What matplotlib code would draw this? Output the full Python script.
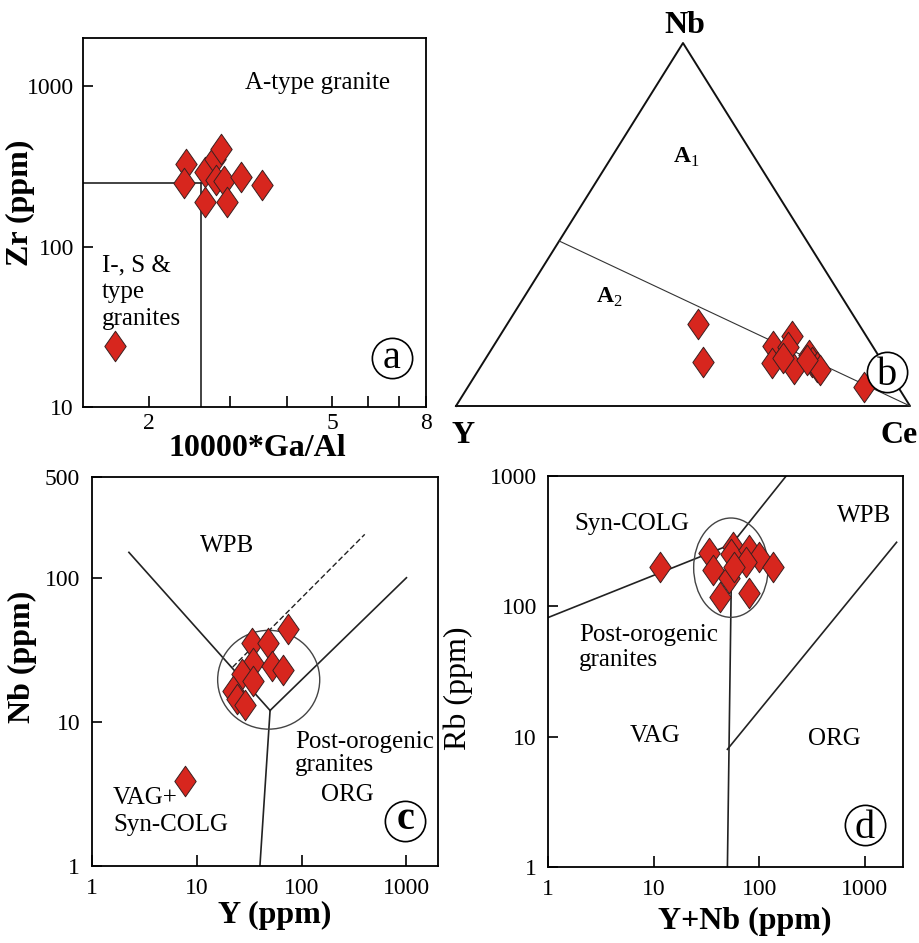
import matplotlib
matplotlib.use("Agg")
import matplotlib.pyplot as plt
import numpy as np
from matplotlib.path import Path
from matplotlib.patches import Ellipse
from matplotlib.ticker import NullLocator
from matplotlib.transforms import offset_copy

plt.rcParams['font.family'] = ['Liberation Serif', 'DejaVu Serif']
plt.rcParams['mathtext.fontset'] = 'custom'
plt.rcParams['mathtext.rm'] = 'Liberation Serif'
plt.rcParams['mathtext.bf'] = 'Liberation Serif:bold'

# ---- data ----
# (a) Zr vs 10000*Ga/Al
ga_al_a = [1.69, 2.41, 2.39, 2.65, 2.78, 2.87, 2.80, 2.91, 2.65, 2.96, 3.18, 3.52]
zr_a = [24, 326, 250, 290, 350, 404, 262, 255, 191, 191, 270, 241]

# (b) Y - Nb - Ce ternary (fractions)
y_b = [0.354, 0.396, 0.219, 0.245, 0.163, 0.187, 0.205, 0.152, 0.155, 0.151, 0.149, 0.163, 0.214, 0.075]
nb_b = [0.226, 0.121, 0.165, 0.118, 0.193, 0.163, 0.102, 0.140, 0.121, 0.107, 0.099, 0.127, 0.132, 0.052]
ce_b = [0.420, 0.483, 0.616, 0.637, 0.644, 0.650, 0.693, 0.708, 0.724, 0.742, 0.752, 0.710, 0.654, 0.873]

# (c) Nb vs Y
y_c = [7.7, 33.4, 47.5, 73.6, 34, 51.8, 65.9, 26.8, 34, 22, 24, 28.6]
nb_c = [3.9, 35.2, 35, 44, 25.6, 24.5, 23, 21.5, 19.3, 16.5, 14.5, 13]

# (d) Rb vs Y+Nb
ynb_d = [11.4, 33.4, 36.5, 56.6, 54, 80, 100, 75, 136, 52, 57.8, 42.5, 80]
rb_d = [200, 256, 189, 285, 251, 270, 238, 218, 200, 164, 200, 117, 126]

# discrimination boundaries
a_lines = [([1.0, 2.6], [250, 250]), ([2.6, 2.6], [10, 250])]
c_lines = [([2.25, 50], [150, 12]), ([50, 1000], [12, 100]), ([40, 50], [1, 12])]
c_dash = ([22, 400], [24, 200])
d_lines = [([1, 55], [82, 300]), ([55, 180], [300, 1000]),
           ([50, 55], [1, 300]), ([50, 2000], [8, 310])]

red = '#d7261e'
diamond = Path([(0, 1), (0.7, 0), (0, -1), (-0.7, 0), (0, 1)],
               [Path.MOVETO, Path.LINETO, Path.LINETO, Path.LINETO, Path.CLOSEPOLY])

fig = plt.figure(figsize=(9.2, 9.43), dpi=100)


def px_axes(l, t, r, b):
    return fig.add_axes([l / 920, 1 - b / 943, (r - l) / 920, (b - t) / 943])


def pts(ax, x, y, **kw):
    ax.scatter(x, y, s=22 ** 2, marker=diamond, c=red, edgecolors='#3a2020',
               linewidths=0.7, zorder=5, clip_on=False, **kw)


def style(ax, xpad, ypad):
    ax.set_xscale('log')
    ax.set_yscale('log')
    ax.xaxis.set_minor_locator(NullLocator())
    ax.yaxis.set_minor_locator(NullLocator())
    for s in ax.spines.values():
        s.set_linewidth(1.3)
    ax.tick_params(axis='x', direction='in', length=8, width=1.2, labelsize=17, pad=xpad)
    ax.tick_params(axis='y', direction='in', length=7, width=1.2, labelsize=17, pad=ypad)


def tag(ax, x, y, s, drop, weight='normal'):
    ax.plot([x], [y], marker='o', ms=29, mfc='white', mec='black', mew=1.2,
            transform=ax.transAxes, clip_on=False, zorder=6)
    tr = offset_copy(ax.transAxes, fig=fig, y=-drop, units='dots')
    ax.text(x, y, s, fontsize=29, ha='center', va='baseline', weight=weight,
            transform=tr, zorder=7)


def labeltxt(ax, x, y, s, **kw):
    ax.text(x, y, s, fontsize=18, transform=ax.transAxes, **kw)


# ---------------- (a) ----------------
ax = px_axes(83, 38, 426, 407)
style(ax, 4.5, 6.5)
ax.set_xlim(1.44, 8)
ax.set_ylim(10, 2000)
for xs, ys in a_lines:
    ax.plot(xs, ys, color='#222222', lw=1.2)
pts(ax, ga_al_a, zr_a)
ax.set_xticks([2, 3, 4, 5, 6, 7, 8])
ax.set_xticklabels(['2', '', '', '5', '', '', '8'])
ax.set_yticks([10, 100, 1000])
ax.set_yticklabels(['10', '100', '1000'])
ax.set_xlabel('10000*Ga/Al', fontsize=23, weight='bold')
ax.xaxis.set_label_coords(0.507, -0.073)
ax.set_ylabel('Zr (ppm)', fontsize=23, weight='bold')
ax.yaxis.set_label_coords(-0.140, 0.553)
labeltxt(ax, 0.685, 0.862, 'A-type granite', ha='center', va='baseline')
labeltxt(ax, 0.055, 0.413, 'I-, S &\ntype\ngranites', ha='left', va='top', linespacing=1.28)
tag(ax, 0.901, 0.133, 'a', 10)

# ---------------- (b) ----------------
axb = px_axes(456, 43, 910, 406)
axb.set_xlim(0, 1)
axb.set_ylim(0, 1)
axb.axis('off')


def tern(yv, nbv, cev):
    yv, nbv, cev = np.asarray(yv, float), np.asarray(nbv, float), np.asarray(cev, float)
    s = yv + nbv + cev
    return (cev + nbv / 2) / s, nbv / s


tri = [tern(1, 0, 0), tern(0, 1, 0), tern(0, 0, 1), tern(1, 0, 0)]
axb.plot([p[0] for p in tri], [p[1] for p in tri], color='#111111', lw=1.4, clip_on=False)
p1, p2 = tern(1.2, 1, 0), tern(0, 0, 1)
axb.plot([p1[0], p2[0]], [p1[1], p2[1]], color='#333333', lw=0.8, clip_on=False)
bx, by = tern(y_b, nb_b, ce_b)
pts(axb, bx, by)
axb.text(0.504, 1.028, 'Nb', fontsize=23, weight='bold', ha='center', va='baseline', transform=axb.transAxes)
axb.text(0.015, -0.102, 'Y', fontsize=23, weight='bold', ha='center', va='baseline', transform=axb.transAxes)
axb.text(0.976, -0.102, 'Ce', fontsize=23, weight='bold', ha='center', va='baseline', transform=axb.transAxes)
axb.text(0.507, 0.669, r'$\mathbf{A}_{\rm 1}$', fontsize=17, ha='center', va='baseline', transform=axb.transAxes)
axb.text(0.337, 0.284, r'$\mathbf{A}_{\rm 2}$', fontsize=17, ha='center', va='baseline', transform=axb.transAxes)
tag(axb, 0.949, 0.094, 'b', 13)

# ---------------- (c) ----------------
axc = px_axes(92, 477, 438, 866)
style(axc, 8.5, 8.6)
axc.set_xlim(1, 2000)
axc.set_ylim(1, 500)
for xs, ys in c_lines:
    axc.plot(xs, ys, color='#222222', lw=1.2)
axc.plot(c_dash[0], c_dash[1], color='#222222', lw=1.0, ls=(0, (4, 2)))
pts(axc, y_c, nb_c)
axc.set_xticks([1, 10, 100, 1000])
axc.set_xticklabels(['1', '10', '100', '1000'])
axc.set_yticks([1, 10, 100, 500])
axc.set_yticklabels(['1', '10', '100', '500'])
axc.set_xlabel('Y (ppm)', fontsize=23, weight='bold')
axc.xaxis.set_label_coords(0.529, -0.090)
axc.set_ylabel('Nb (ppm)', fontsize=23, weight='bold')
axc.yaxis.set_label_coords(-0.159, 0.537)
cx, cy = axc.transAxes.inverted().transform(axc.transData.transform((48.5, 19.6)))
axc.add_patch(Ellipse((cx, cy), 0.295, 0.254, transform=axc.transAxes, fill=False,
                      ec='#444444', lw=1.0, zorder=3))
labeltxt(axc, 0.390, 0.807, 'WPB', ha='center', va='baseline')
labeltxt(axc, 0.587, 0.347, 'Post-orogenic\ngranites', ha='left', va='top', linespacing=1.04)
labeltxt(axc, 0.737, 0.167, 'ORG', ha='center', va='baseline')
labeltxt(axc, 0.061, 0.203, 'VAG+\nSyn-COLG', ha='left', va='top', linespacing=1.28)
tag(axc, 0.905, 0.116, 'c', 8, weight='bold')

# ---------------- (d) ----------------
axd = px_axes(548, 476, 903, 867)
style(axd, 8.5, 8.0)
axd.set_xlim(1, 2300)
axd.set_ylim(1, 1000)
for xs, ys in d_lines:
    axd.plot(xs, ys, color='#222222', lw=1.2)
pts(axd, ynb_d, rb_d)
axd.set_xticks([1, 10, 100, 1000])
axd.set_xticklabels(['1', '10', '100', '1000'])
axd.set_yticks([1, 10, 100, 1000])
axd.set_yticklabels(['1', '10', '100', '1000'])
axd.set_xlabel('Y+Nb (ppm)', fontsize=23, weight='bold')
axd.xaxis.set_label_coords(0.555, -0.102)
axd.set_ylabel('Rb (ppm)', fontsize=23)
axd.yaxis.set_label_coords(-0.211, 0.458)
dx, dy = axd.transAxes.inverted().transform(axd.transData.transform((54, 198)))
axd.add_patch(Ellipse((dx, dy), 0.21, 0.254, transform=axd.transAxes, fill=False,
                      ec='#444444', lw=1.0, zorder=3))
labeltxt(axd, 0.237, 0.862, 'Syn-COLG', ha='center', va='baseline')
labeltxt(axd, 0.890, 0.882, 'WPB', ha='center', va='baseline')
labeltxt(axd, 0.087, 0.621, 'Post-orogenic\ngranites', ha='left', va='top', linespacing=1.14)
labeltxt(axd, 0.301, 0.320, 'VAG', ha='center', va='baseline')
labeltxt(axd, 0.806, 0.312, 'ORG', ha='center', va='baseline')
tag(axd, 0.893, 0.107, 'd', 13)

fig.savefig('out.png', dpi=100)
